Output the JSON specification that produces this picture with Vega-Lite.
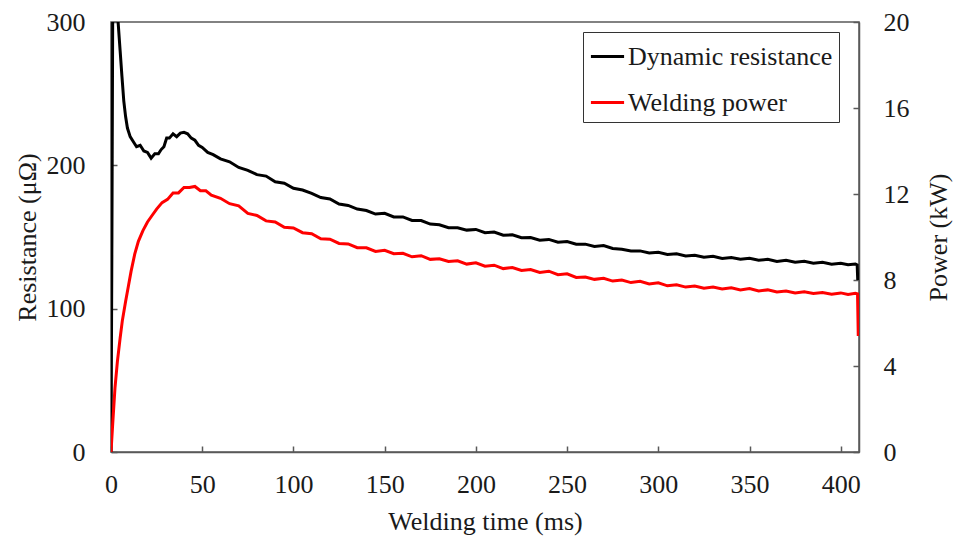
{
  "$schema": "https://vega.github.io/schema/vega-lite/v6.json",
  "width": 748,
  "height": 430,
  "autosize": {"type": "none"},
  "padding": {"left": 111, "top": 22, "right": 95, "bottom": 89},
  "background": "white",
  "config": {
    "view": {"stroke": "#595959", "strokeWidth": 1.5},
    "font": "Liberation Serif",
    "axis": {
      "grid": false,
      "domainColor": "#595959",
      "domainWidth": 1.5,
      "tickColor": "#595959",
      "tickWidth": 1.5,
      "tickSize": -6,
      "labelFont": "Liberation Serif",
      "labelFontSize": 26,
      "labelColor": "#1a1a1a",
      "labelFlush": false,
      "labelOverlap": false,
      "titleFont": "Liberation Serif",
      "titleFontSize": 26,
      "titleFontWeight": "normal",
      "titleColor": "#1a1a1a"
    },
    "legend": {
      "labelFont": "Liberation Serif",
      "labelFontSize": 26,
      "labelColor": "#1a1a1a",
      "labelLimit": 400
    }
  },
  "datasets": {
    "res": [
      {"t": 0, "v": 0}, {"t": 0.5, "v": 150}, {"t": 1, "v": 330}, {"t": 2, "v": 335}, {"t": 3, "v": 318},
      {"t": 4, "v": 298}, {"t": 5, "v": 280}, {"t": 6, "v": 262}, {"t": 7, "v": 245}, {"t": 8, "v": 234},
      {"t": 9, "v": 226}, {"t": 10.5, "v": 220}, {"t": 12, "v": 217}, {"t": 14, "v": 213}, {"t": 16, "v": 214},
      {"t": 18, "v": 210}, {"t": 20, "v": 209}, {"t": 22, "v": 205}, {"t": 24, "v": 208}, {"t": 26, "v": 208},
      {"t": 27.5, "v": 211}, {"t": 29, "v": 213}, {"t": 30.5, "v": 219}, {"t": 32, "v": 219}, {"t": 34, "v": 222},
      {"t": 36, "v": 220}, {"t": 38, "v": 222.5}, {"t": 40, "v": 223}, {"t": 42, "v": 222}, {"t": 44, "v": 219},
      {"t": 46, "v": 217.5}, {"t": 48, "v": 214}, {"t": 50, "v": 212.5}, {"t": 53, "v": 209}, {"t": 56, "v": 207.5},
      {"t": 60, "v": 204.5}, {"t": 65, "v": 202.5}, {"t": 70, "v": 198.5}, {"t": 75, "v": 196.5}, {"t": 80, "v": 193.5},
      {"t": 85, "v": 192.5}, {"t": 90, "v": 188.5}, {"t": 95, "v": 187.5}, {"t": 100, "v": 184}, {"t": 105, "v": 182.8},
      {"t": 110, "v": 180.5}, {"t": 115, "v": 177.5}, {"t": 120, "v": 176.5}, {"t": 125, "v": 173}, {"t": 130, "v": 172},
      {"t": 135, "v": 169.5}, {"t": 140, "v": 168.5}, {"t": 145, "v": 166}, {"t": 150, "v": 166.5}, {"t": 155, "v": 164},
      {"t": 160, "v": 164}, {"t": 165, "v": 161.5}, {"t": 170, "v": 161.5}, {"t": 175, "v": 159}, {"t": 180, "v": 158.5},
      {"t": 185, "v": 156.5}, {"t": 190, "v": 156.5}, {"t": 195, "v": 154.8}, {"t": 200, "v": 155.3}, {"t": 205, "v": 153},
      {"t": 210, "v": 153.5}, {"t": 215, "v": 151.2}, {"t": 220, "v": 151.5}, {"t": 225, "v": 149.5}, {"t": 230, "v": 149.6},
      {"t": 235, "v": 147.8}, {"t": 240, "v": 148.3}, {"t": 245, "v": 146.3}, {"t": 250, "v": 146.8}, {"t": 255, "v": 145},
      {"t": 260, "v": 145}, {"t": 265, "v": 143.4}, {"t": 270, "v": 144}, {"t": 275, "v": 142}, {"t": 280, "v": 141.5},
      {"t": 285, "v": 140.2}, {"t": 290, "v": 140.3}, {"t": 295, "v": 138.8}, {"t": 300, "v": 139.3}, {"t": 305, "v": 137.8},
      {"t": 310, "v": 138.3}, {"t": 315, "v": 136.8}, {"t": 320, "v": 137.3}, {"t": 325, "v": 135.9}, {"t": 330, "v": 136.5},
      {"t": 335, "v": 135}, {"t": 340, "v": 135.7}, {"t": 345, "v": 134.5}, {"t": 350, "v": 135.2}, {"t": 355, "v": 133.8},
      {"t": 360, "v": 134.4}, {"t": 365, "v": 133}, {"t": 370, "v": 133.8}, {"t": 375, "v": 132.4}, {"t": 380, "v": 133},
      {"t": 385, "v": 131.7}, {"t": 390, "v": 132.3}, {"t": 395, "v": 131}, {"t": 400, "v": 131.6}, {"t": 404, "v": 130.6},
      {"t": 408, "v": 131.2}, {"t": 409, "v": 130.5}, {"t": 409.3, "v": 120}
    ],
    "pow": [
      {"t": 0, "v": 0}, {"t": 1, "v": 1.4}, {"t": 2.2, "v": 3.0}, {"t": 3.5, "v": 4.2}, {"t": 5, "v": 5.3},
      {"t": 6.2, "v": 6.1}, {"t": 8, "v": 7.0}, {"t": 9.5, "v": 7.7}, {"t": 11, "v": 8.4}, {"t": 13, "v": 9.2},
      {"t": 15, "v": 9.8}, {"t": 17.5, "v": 10.3}, {"t": 20, "v": 10.7}, {"t": 22.5, "v": 11.0}, {"t": 25, "v": 11.3},
      {"t": 28, "v": 11.6}, {"t": 31, "v": 11.75}, {"t": 34, "v": 12.05}, {"t": 37, "v": 12.05}, {"t": 40, "v": 12.3},
      {"t": 43, "v": 12.3}, {"t": 46, "v": 12.35}, {"t": 49, "v": 12.15}, {"t": 52, "v": 12.15}, {"t": 55, "v": 11.95},
      {"t": 60, "v": 11.8}, {"t": 65, "v": 11.55}, {"t": 70, "v": 11.45}, {"t": 75, "v": 11.1}, {"t": 80, "v": 11.0},
      {"t": 85, "v": 10.75}, {"t": 90, "v": 10.7}, {"t": 95, "v": 10.45}, {"t": 100, "v": 10.42}, {"t": 105, "v": 10.2},
      {"t": 110, "v": 10.15}, {"t": 115, "v": 9.92}, {"t": 120, "v": 9.9}, {"t": 125, "v": 9.7}, {"t": 130, "v": 9.68},
      {"t": 135, "v": 9.5}, {"t": 140, "v": 9.5}, {"t": 145, "v": 9.33}, {"t": 150, "v": 9.38}, {"t": 155, "v": 9.22},
      {"t": 160, "v": 9.24}, {"t": 165, "v": 9.08}, {"t": 170, "v": 9.13}, {"t": 175, "v": 8.96}, {"t": 180, "v": 8.99},
      {"t": 185, "v": 8.86}, {"t": 190, "v": 8.89}, {"t": 195, "v": 8.74}, {"t": 200, "v": 8.8}, {"t": 205, "v": 8.64},
      {"t": 210, "v": 8.69}, {"t": 215, "v": 8.53}, {"t": 220, "v": 8.58}, {"t": 225, "v": 8.44}, {"t": 230, "v": 8.49},
      {"t": 235, "v": 8.35}, {"t": 240, "v": 8.41}, {"t": 245, "v": 8.25}, {"t": 250, "v": 8.29}, {"t": 255, "v": 8.12},
      {"t": 260, "v": 8.14}, {"t": 265, "v": 8.03}, {"t": 270, "v": 8.08}, {"t": 275, "v": 7.95}, {"t": 280, "v": 8.0},
      {"t": 285, "v": 7.88}, {"t": 290, "v": 7.94}, {"t": 295, "v": 7.82}, {"t": 300, "v": 7.87}, {"t": 305, "v": 7.73},
      {"t": 310, "v": 7.78}, {"t": 315, "v": 7.67}, {"t": 320, "v": 7.72}, {"t": 325, "v": 7.62}, {"t": 330, "v": 7.67},
      {"t": 335, "v": 7.58}, {"t": 340, "v": 7.64}, {"t": 345, "v": 7.54}, {"t": 350, "v": 7.6}, {"t": 355, "v": 7.49},
      {"t": 360, "v": 7.54}, {"t": 365, "v": 7.44}, {"t": 370, "v": 7.49}, {"t": 375, "v": 7.4}, {"t": 380, "v": 7.45},
      {"t": 385, "v": 7.37}, {"t": 390, "v": 7.42}, {"t": 395, "v": 7.34}, {"t": 400, "v": 7.4}, {"t": 404, "v": 7.33},
      {"t": 408, "v": 7.38}, {"t": 409.2, "v": 7.35}, {"t": 409.6, "v": 5.4}
    ]
  },
  "layer": [
    {
      "data": {"name": "res"},
      "mark": {"type": "line", "strokeWidth": 3, "clip": true, "interpolate": "linear"},
      "encoding": {
        "x": {
          "field": "t", "type": "quantitative",
          "scale": {"domain": [0, 410], "nice": false, "zero": false},
          "axis": {"title": "Welding time (ms)", "values": [0, 50, 100, 150, 200, 250, 300, 350, 400], "labelPadding": 25, "titlePadding": 11}
        },
        "y": {
          "field": "v", "type": "quantitative",
          "scale": {"domain": [0, 300], "nice": false},
          "axis": {"title": "Resistance (μΩ)", "values": [0, 100, 200, 300], "labelPadding": 32, "titlePadding": 6}
        },
        "color": {
          "datum": "Dynamic resistance",
          "scale": {"domain": ["Dynamic resistance", "Welding power"], "range": ["#000000", "#ff0000"]},
          "legend": {
            "title": null,
            "orient": "none",
            "legendX": 472,
            "legendY": 10,
            "symbolType": "stroke",
            "symbolSize": 1100,
            "symbolStrokeWidth": 3,
            "labelOffset": 2,
            "rowPadding": 14,
            "padding": 6,
            "strokeColor": "#333333",
            "fillColor": "white"
          }
        }
      }
    },
    {
      "data": {"name": "pow"},
      "mark": {"type": "line", "strokeWidth": 3, "clip": true, "interpolate": "linear"},
      "encoding": {
        "x": {"field": "t", "type": "quantitative"},
        "y": {
          "field": "v", "type": "quantitative",
          "scale": {"domain": [0, 20], "nice": false},
          "axis": {"orient": "right", "title": "Power (kW)", "titleAngle": 270, "values": [0, 4, 8, 12, 16, 20], "labelPadding": 30, "titlePadding": 42}
        },
        "color": {"datum": "Welding power"}
      }
    }
  ],
  "resolve": {"scale": {"y": "independent"}}
}
